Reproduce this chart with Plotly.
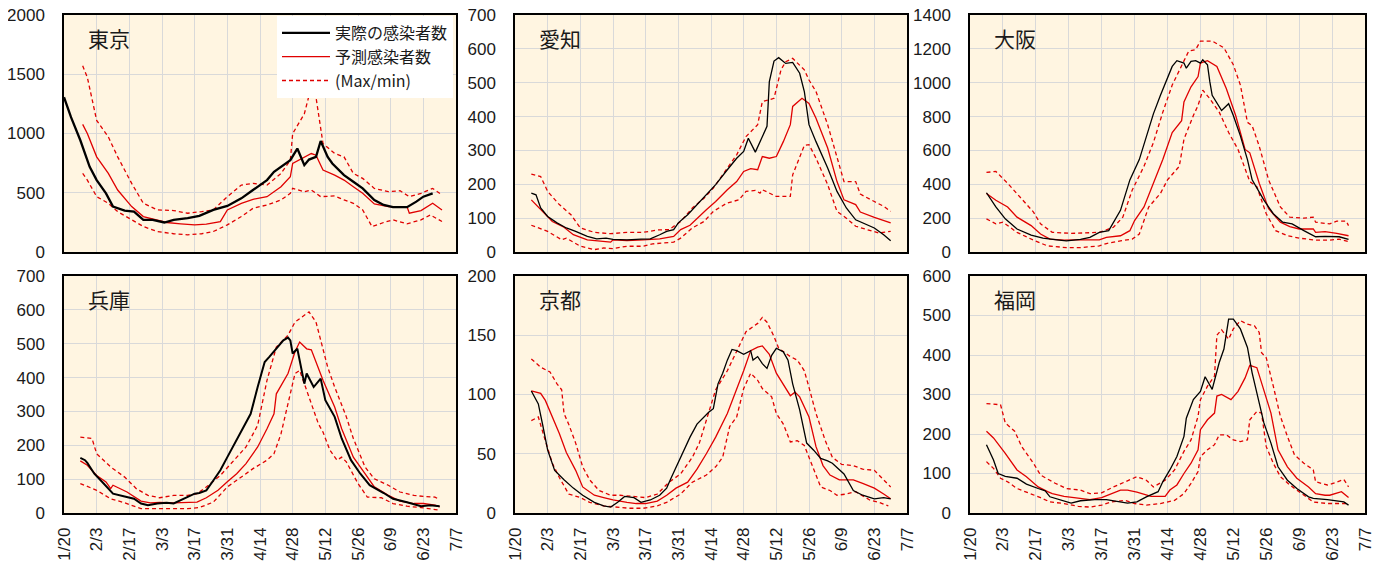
import datetime as dt
import plotly.graph_objects as go

# ---------------- data (day offset from 2021-01-20, value) ----------------
TOKYO_ACT = [(0,1306),(3,1138),(7,943),(11,719),(14,607),(18,495),(21,383),(26,350),(30,341),(34,271),(38,271),(43,249),(47,271),(53,285),(58,305),(64,355),(70,389),(76,453),(81,523),(87,607),(90,677),(94,733),(97,775),(100,873),(103,733),(105,780),(108,803),(110,937),(113,803),(115,747),(120,649),(124,593),(128,537),(133,439),(137,397),(141,378),(147,378),(151,425),(154,467),(158,495)]
TOKYO_PRED = [(8,1077),(10,1000),(14,803),(19,663),(23,523),(29,383),(34,299),(40,271),(44,249),(50,238),(56,229),(61,235),(67,257),(70,355),(76,411),(81,445),(87,467),(93,551),(97,635),(98,747),(103,797),(106,831),(108,817),(111,691),(116,649),(120,607),(124,551),(128,495),(133,406),(139,383),(144,378),(147,383),(148,327),(153,350),(158,411),(162,355)]
TOKYO_MAX = [(8,1572),(10,1474),(14,1110),(19,971),(23,803),(29,579),(34,411),(40,355),(47,350),(53,327),(59,341),(64,355),(70,467),(76,565),(81,579),(87,565),(93,663),(97,775),(98,999),(103,1166),(106,1396),(108,1306),(111,915),(116,831),(120,803),(124,663),(128,621),(133,537),(139,509),(144,517),(148,467),(153,495),(158,537),(162,481)]
TOKYO_MIN = [(8,663),(10,607),(14,467),(19,411),(23,341),(29,271),(34,215),(40,173),(47,154),(53,145),(59,154),(64,173),(70,229),(76,299),(81,369),(87,397),(93,439),(97,495),(98,537),(103,509),(106,523),(110,467),(116,473),(120,439),(124,411),(128,355),(132,215),(137,249),(141,271),(147,238),(153,271),(157,313),(162,257)]

AICHI_ACT = [(7,174),(9,169),(11,130),(14,105),(18,86),(22,71),(26,61),(31,46),(35,39),(39,41),(42,37),(48,36),(54,38),(58,39),(62,51),(65,61),(68,66),(70,86),(74,110),(78,140),(82,169),(86,199),(91,243),(95,277),(98,297),(100,336),(103,295),(105,326),(108,371),(109,503),(111,564),(113,574),(116,557),(119,560),(122,528),(124,474),(126,376),(129,326),(134,248),(138,179),(142,130),(146,95),(149,86),(154,71),(158,51),(161,33)]
AICHI_PRED = [(7,154),(12,120),(16,90),(21,73),(25,51),(31,36),(36,33),(41,29),(42,36),(48,34),(55,36),(62,39),(68,46),(71,66),(75,79),(78,100),(82,125),(86,149),(91,184),(95,208),(98,238),(101,246),(104,243),(106,282),(109,277),(112,282),(115,326),(118,376),(119,430),(123,454),(126,439),(129,395),(134,307),(138,208),(141,154),(146,140),(148,118),(154,102),(158,92),(161,86)]
AICHI_MAX = [(7,230),(11,223),(14,179),(19,140),(24,110),(28,71),(34,58),(41,54),(48,58),(55,58),(61,65),(66,66),(71,90),(76,130),(81,159),(85,189),(91,248),(95,287),(99,341),(104,376),(106,444),(111,454),(114,538),(116,562),(119,572),(124,538),(126,508),(129,474),(134,376),(138,277),(141,208),(146,208),(148,171),(154,149),(158,135),(161,120)]
AICHI_MIN = [(7,79),(14,61),(20,36),(22,41),(28,17),(34,7),(38,12),(42,10),(48,17),(55,17),(59,24),(68,29),(71,41),(76,71),(81,90),(85,120),(91,145),(96,154),(99,179),(103,182),(105,174),(106,184),(112,164),(118,164),(119,228),(122,277),(124,315),(126,317),(129,277),(134,199),(138,120),(142,100),(146,76),(151,66),(156,56),(161,61)]

OSAKA_ACT = [(7,350),(11,266),(15,196),(20,136),(26,100),(31,82),(37,72),(41,66),(47,74),(51,86),(55,116),(59,126),(64,246),(68,426),(72,546),(75,686),(78,816),(81,926),(84,1026),(86,1096),(88,1130),(91,1116),(92,1086),(94,1126),(96,1130),(98,1116),(99,1136),(101,1106),(102,1006),(103,926),(107,836),(110,876),(112,806),(115,686),(118,546),(120,426),(125,306),(129,226),(133,176),(137,166),(142,126),(147,90),(151,92),(157,90),(161,74)]
OSAKA_PRED = [(7,346),(11,306),(16,266),(20,206),(26,156),(30,106),(34,76),(40,70),(45,72),(51,72),(55,72),(58,86),(64,96),(68,126),(70,186),(74,266),(78,406),(82,546),(86,706),(90,776),(91,886),(94,976),(97,1036),(98,1116),(101,1130),(105,1096),(109,966),(113,806),(117,606),(119,586),(123,406),(127,256),(132,176),(136,150),(140,136),(146,136),(147,116),(151,120),(156,110),(161,96)]
OSAKA_MAX = [(7,470),(11,476),(16,406),(21,326),(27,236),(30,166),(35,116),(43,110),(50,116),(55,116),(61,146),(65,206),(69,366),(74,506),(78,646),(82,826),(86,986),(91,1126),(93,1186),(96,1196),(98,1246),(103,1246),(108,1206),(112,1106),(115,986),(118,766),(120,746),(123,626),(127,426),(132,266),(136,206),(142,200),(146,206),(147,176),(153,166),(156,182),(160,182),(161,156)]
OSAKA_MIN = [(7,196),(11,166),(14,176),(20,116),(27,70),(33,36),(41,26),(47,26),(55,36),(58,50),(64,66),(69,76),(72,106),(76,266),(81,346),(84,426),(89,506),(91,666),(95,806),(97,866),(99,956),(102,906),(106,826),(110,706),(114,606),(117,486),(119,416),(122,386),(126,226),(130,126),(135,96),(140,82),(147,70),(153,70),(157,76),(161,62)]

HYOGO_ACT = [(7,163),(9,156),(10,148),(13,116),(17,87),(21,57),(26,49),(30,42),(33,28),(36,23),(40,28),(44,30),(47,28),(51,40),(56,57),(58,59),(61,67),(64,96),(67,126),(70,165),(74,215),(78,269),(80,293),(83,372),(86,446),(88,461),(91,485),(94,510),(96,518),(97,510),(98,471),(100,485),(103,382),(104,412),(107,372),(110,397),(112,333),(116,284),(119,220),(123,156),(127,116),(131,82),(137,59),(141,42),(147,32),(153,20),(157,23),(161,20)]
HYOGO_PRED = [(7,154),(10,141),(14,111),(18,92),(20,72),(21,82),(27,62),(33,35),(37,30),(41,31),(47,30),(53,30),(57,32),(61,45),(66,67),(70,92),(74,116),(78,146),(83,195),(87,249),(90,293),(91,352),(96,412),(99,476),(101,505),(104,485),(106,482),(111,392),(116,313),(119,249),(121,215),(124,165),(129,116),(133,77),(139,52),(144,35),(150,28),(154,28),(159,23),(161,18)]
HYOGO_MAX = [(7,224),(12,220),(14,175),(20,136),(26,106),(31,72),(36,52),(41,45),(47,52),(53,52),(57,57),(61,77),(67,111),(73,156),(78,195),(83,259),(87,392),(91,490),(96,525),(99,564),(101,574),(105,594),(108,564),(110,510),(113,431),(116,372),(119,318),(121,284),(124,220),(129,136),(133,101),(139,82),(144,62),(150,52),(154,49),(159,47),(161,39)]
HYOGO_MIN = [(7,87),(14,67),(20,42),(26,30),(33,13),(40,13),(47,13),(53,13),(58,16),(64,32),(70,77),(76,106),(81,131),(87,156),(90,175),(93,234),(96,323),(99,412),(101,421),(103,382),(106,323),(109,264),(111,239),(114,185),(117,156),(119,165),(121,151),(126,87),(130,47),(136,45),(141,28),(147,20),(153,16),(159,10),(161,8)]

KYOTO_ACT = [(7,103),(10,92),(12,73),(14,53),(17,36),(21,28),(25,21),(29,15),(34,9),(38,6),(41,5),(44,9),(47,14),(51,13),(54,9),(58,11),(62,15),(65,21),(67,30),(71,47),(75,64),(78,75),(81,81),(83,85),(85,88),(87,109),(89,118),(91,129),(93,138),(95,137),(98,134),(101,137),(102,129),(104,132),(106,126),(108,122),(110,133),(112,139),(115,136),(117,129),(119,109),(122,87),(125,59),(128,53),(131,46),(134,44),(136,42),(141,33),(145,19),(149,15),(154,12),(158,13),(161,12)]
KYOTO_PRED = [(7,103),(11,101),(13,95),(16,81),(19,67),(22,51),(26,36),(29,22),(34,15),(38,13),(42,11),(48,9),(52,8),(56,8),(61,10),(65,15),(69,21),(74,26),(78,37),(82,50),(86,64),(91,84),(95,104),(98,120),(101,137),(104,140),(106,141),(109,134),(112,118),(115,109),(118,99),(120,102),(122,98),(126,81),(129,56),(132,40),(135,32),(139,28),(145,28),(149,25),(154,21),(158,16),(161,12)]
KYOTO_MAX = [(7,130),(11,123),(15,119),(18,109),(20,104),(21,84),(23,75),(26,59),(29,39),(32,28),(36,19),(41,15),(45,15),(51,14),(56,13),(61,16),(66,26),(71,33),(76,47),(79,59),(83,84),(86,104),(91,120),(95,137),(99,153),(104,160),(106,165),(108,161),(111,149),(113,139),(118,132),(121,129),(124,120),(126,106),(129,84),(133,61),(136,47),(140,41),(145,40),(149,37),(154,36),(156,32),(161,22)]
KYOTO_MIN = [(7,78),(10,81),(13,61),(16,42),(19,30),(23,16),(28,13),(32,9),(38,6),(44,5),(49,4),(55,4),(61,6),(65,9),(71,16),(76,26),(82,32),(86,39),(89,47),(92,73),(95,81),(98,105),(101,118),(104,112),(106,105),(110,98),(112,84),(115,75),(118,60),(121,61),(124,57),(127,42),(131,22),(135,19),(138,15),(142,16),(146,18),(152,11),(156,9),(160,6)]

FUKUOKA_ACT = [(7,173),(10,134),(12,100),(15,93),(20,88),(24,73),(29,62),(32,56),(34,41),(39,31),(43,25),(47,31),(53,34),(58,34),(63,28),(67,25),(71,28),(75,41),(80,54),(82,79),(85,109),(88,143),(91,194),(92,240),(95,287),(98,308),(100,345),(103,313),(106,381),(108,415),(110,491),(112,491),(115,466),(118,419),(120,355),(122,304),(125,228),(128,177),(131,117),(135,83),(139,62),(144,41),(146,37),(152,34),(156,31),(159,28),(161,20)]
FUKUOKA_PRED = [(7,207),(10,190),(15,151),(17,134),(20,109),(24,92),(29,66),(33,54),(35,49),(40,42),(46,37),(51,34),(56,39),(60,48),(64,58),(67,58),(71,53),(77,42),(83,42),(85,58),(88,71),(91,100),(94,126),(97,160),(98,211),(101,236),(104,253),(105,296),(107,300),(111,287),(114,308),(117,342),(119,374),(122,368),(125,313),(128,253),(131,160),(135,117),(139,88),(144,66),(147,49),(151,45),(153,45),(158,54),(161,39)]
FUKUOKA_MAX = [(7,277),(13,274),(15,228),(19,207),(22,168),(27,126),(30,96),(36,76),(41,62),(47,58),(51,49),(56,51),(61,66),(67,82),(71,92),(75,83),(78,66),(83,83),(87,109),(91,156),(94,185),(97,245),(98,287),(101,321),(104,347),(105,450),(107,464),(110,440),(112,466),(115,487),(118,478),(121,474),(123,457),(124,406),(126,393),(129,321),(132,245),(135,194),(138,147),(142,126),(146,109),(147,79),(152,71),(155,76),(159,85),(161,66)]
FUKUOKA_MIN = [(7,130),(10,113),(13,88),(16,79),(20,62),(26,49),(30,39),(34,28),(40,24),(46,17),(51,15),(56,20),(60,28),(66,32),(70,24),(75,20),(81,24),(87,32),(91,49),(94,75),(97,105),(98,143),(101,160),(104,173),(106,198),(109,198),(112,185),(115,181),(118,185),(119,236),(122,257),(124,253),(126,168),(129,126),(132,92),(136,71),(141,49),(146,28),(152,24),(158,25),(161,24)]

PREF_NAMES = ["東京", "愛知", "大阪", "兵庫", "京都", "福岡"]
Y_MAX = [2000, 700, 1400, 700, 200, 600]
Y_DTICK = [500, 100, 200, 100, 50, 100]
LEGEND_NAMES = ["実際の感染者数", "予測感染者数", "(Max/min)"]

# ---------------- helpers / style ----------------
BASE = dt.date(2021, 1, 20)
END = dt.date(2021, 7, 7)


def xs(pairs):
    return [(BASE + dt.timedelta(days=d)).isoformat() for d, _ in pairs]


def ys(pairs):
    return [v for _, v in pairs]


SERIES = [
    (TOKYO_ACT, TOKYO_PRED, TOKYO_MAX, TOKYO_MIN, 2.3),
    (AICHI_ACT, AICHI_PRED, AICHI_MAX, AICHI_MIN, 1.3),
    (OSAKA_ACT, OSAKA_PRED, OSAKA_MAX, OSAKA_MIN, 1.3),
    (HYOGO_ACT, HYOGO_PRED, HYOGO_MAX, HYOGO_MIN, 2.0),
    (KYOTO_ACT, KYOTO_PRED, KYOTO_MAX, KYOTO_MIN, 1.3),
    (FUKUOKA_ACT, FUKUOKA_PRED, FUKUOKA_MAX, FUKUOKA_MIN, 1.3),
]

# the page body has an 8px margin, so the figure is drawn 8px in from the window edge
OFF = 8
W, H = 1386 - OFF, 565 - OFF
XDOM = [(64, 456), (515, 907), (970, 1365)]   # window pixels
YDOM = [(15, 252), (276, 513)]
RED = "#E00000"
GRID = "#d9d9d9"
BG = "#FFF5E1"
NUM_FONT = dict(family="Liberation Sans, Arial", size=17, color="#1a1a1a")
JP = "Noto Sans CJK JP"

fig = go.Figure()
layout = dict(
    width=W, height=H,
    margin=dict(l=0, r=0, t=0, b=0, autoexpand=False),
    paper_bgcolor="white",
    plot_bgcolor=BG,
    showlegend=True,
    legend=dict(
        x=(453 - OFF) / W, xanchor="right", y=1 - (16 - OFF) / H, yanchor="top",
        bgcolor="white", borderwidth=0,
        font=dict(family=JP, size=16, color="#1a1a1a"),
        itemwidth=48, tracegroupgap=0,
    ),
    annotations=[],
)

for i, (act, pred, mx, mn, blw) in enumerate(SERIES):
    row, col = divmod(i, 3)
    sfx = "" if i == 0 else str(i + 1)
    xa, ya = "x" + sfx, "y" + sfx
    first = i == 0

    fig.add_trace(go.Scatter(
        x=xs(mx), y=ys(mx), xaxis=xa, yaxis=ya, mode="lines",
        line=dict(color=RED, width=1.3, dash="4px,3px"),
        name=LEGEND_NAMES[2], legendgroup="mm", legendrank=3, showlegend=first))
    fig.add_trace(go.Scatter(
        x=xs(mn), y=ys(mn), xaxis=xa, yaxis=ya, mode="lines",
        line=dict(color=RED, width=1.3, dash="4px,3px"),
        name=LEGEND_NAMES[2], legendgroup="mm", showlegend=False))
    fig.add_trace(go.Scatter(
        x=xs(pred), y=ys(pred), xaxis=xa, yaxis=ya, mode="lines",
        line=dict(color=RED, width=1.3),
        name=LEGEND_NAMES[1], legendgroup="pred", legendrank=2, showlegend=first))
    fig.add_trace(go.Scatter(
        x=xs(act), y=ys(act), xaxis=xa, yaxis=ya, mode="lines",
        line=dict(color="black", width=blw),
        name=LEGEND_NAMES[0], legendgroup="act", legendrank=1, showlegend=first))

    x0, x1 = (v - OFF for v in XDOM[col])
    y0, y1 = (v - OFF for v in YDOM[row])
    layout["xaxis" + sfx] = dict(
        domain=[x0 / W, x1 / W], anchor=ya, type="date", automargin=False,
        range=[BASE.isoformat(), END.isoformat()],
        tick0=BASE.isoformat(), dtick=14 * 86400000, tickformat="%-m/%-d",
        tickangle=-90, showticklabels=(row == 1), ticks="",
        ticklabelstandoff=6, ticklabeloverflow="allow",
        showgrid=True, gridcolor=GRID, gridwidth=1,
        showline=True, mirror=True, linecolor="black", linewidth=1.5,
        tickfont=NUM_FONT, zeroline=False,
    )
    layout["yaxis" + sfx] = dict(
        domain=[1 - y1 / H, 1 - y0 / H], anchor=xa, automargin=False,
        range=[0, Y_MAX[i]], dtick=Y_DTICK[i], ticks="",
        ticklabelstandoff=14, ticklabeloverflow="allow",
        showgrid=True, gridcolor=GRID, gridwidth=1,
        showline=True, mirror=True, linecolor="black", linewidth=1.5,
        tickfont=NUM_FONT, zeroline=False,
    )
    layout["annotations"].append(dict(
        text=PREF_NAMES[i], xref=xa + " domain", yref=ya + " domain",
        x=0.055, y=0.905, xanchor="left", yanchor="middle", showarrow=False,
        font=dict(family=JP, size=21, color="#1a1a1a"),
    ))

fig.update_layout(**layout)
fig.write_html("out.html")
